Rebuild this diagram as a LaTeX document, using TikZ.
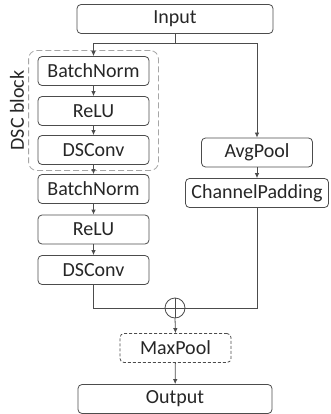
\documentclass[tikz,border=0pt]{standalone}
\usepackage{fontspec}
\setmainfont{Carlito}
\usetikzlibrary{arrows.meta,fit}

\begin{document}
\begin{tikzpicture}[x=1pt,y=-1pt,
  every node/.style={font=\fontsize{20}{22}\selectfont, text=black!85},
  layer/.style={draw=black!70, rounded corners=4pt, line width=0.8pt,
    minimum height=29pt, inner sep=0pt},
  dashlayer/.style={layer, dash pattern=on 3pt off 2pt},
  flow/.style={draw=black!70, line width=0.8pt},
  arr/.style={flow, -{Latex[length=5pt,width=4.5pt]}}]
  \useasboundingbox (0,0) rectangle (330,414);

  % main path
  \node[layer, minimum width=196pt] (input) at (175,19) {Input};
  \node[layer, minimum width=111pt] (bn1) at (93.5,71) {BatchNorm};
  \node[layer, minimum width=111pt] (relu1) at (93.5,111) {ReLU};
  \node[layer, minimum width=111pt] (conv1) at (93.5,150) {DSConv};
  \node[layer, minimum width=111pt] (bn2) at (93.5,189) {BatchNorm};
  \node[layer, minimum width=111pt] (relu2) at (93.5,229.5) {ReLU};
  \node[layer, minimum width=111pt] (conv2) at (93.5,270) {DSConv};

  % shortcut
  \node[layer, minimum width=111pt] (avgpool) at (257,152.5) {AvgPool};
  \node[layer, minimum width=143pt] (chpad) at (257,193) {ChannelPadding};

  % merge
  \node[circle, draw=black!70, line width=0.8pt, minimum size=20pt, inner sep=0pt,
    path picture={\draw[black!70, line width=0.8pt]
      (path picture bounding box.north) -- (path picture bounding box.south)
      (path picture bounding box.west) -- (path picture bounding box.east);}]
    (plus) at (175,308) {};
  \node[dashlayer, minimum width=111pt] (maxpool) at (175.5,348) {MaxPool};
  \node[layer, minimum width=194pt] (output) at (175,399) {Output};

  % DSC block frame
  \node[draw=black!35, line width=0.8pt, dash pattern=on 6pt off 3pt,
    rounded corners=8pt, inner xsep=9pt, inner ysep=5.5pt, fit=(bn1) (conv1)] (dsc) {};
  \node[rotate=90, anchor=south, inner sep=4pt] (dsclabel) at (dsc.west) {DSC block};

  % connectors
  \coordinate (split) at (175,43);
  \draw[flow] (input.south) -- (split);
  \draw[arr] (split) -| (bn1.north);
  \draw[arr] (split) -| (avgpool.north);
  \foreach \a/\b in {bn1/relu1, relu1/conv1, conv1/bn2, bn2/relu2, relu2/conv2,
      avgpool/chpad, maxpool/output}
    \draw[arr] (\a) -- (\b);
  \draw[flow] (conv2.south) |- (plus.west);
  \draw[flow] (chpad.south) |- (plus.east);
  \draw[arr] (plus.south) -- (maxpool.north);
\end{tikzpicture}
\end{document}
